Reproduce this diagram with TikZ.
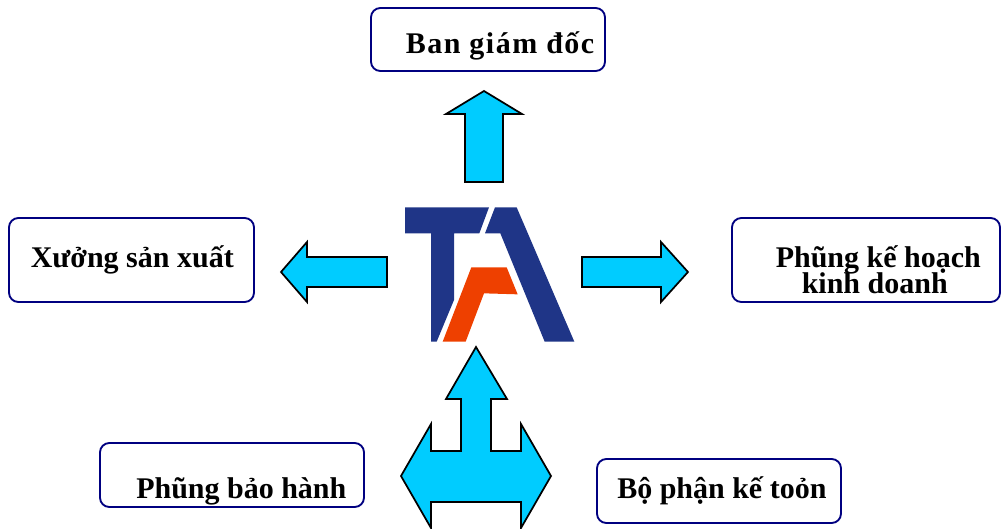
\documentclass[tikz,border=0pt]{standalone}
\usepackage{fontspec}
\setmainfont{Liberation Serif}
\definecolor{logoblue}{HTML}{1F3587}
\definecolor{logored}{HTML}{EE4000}
\definecolor{arrowcyan}{HTML}{00CCFF}
\definecolor{boxblue}{HTML}{000080}
\tikzset{
  roundbox/.style={draw=boxblue,line width=1.4pt,rounded corners=7pt,fill=white,inner sep=0pt,outer sep=0pt,anchor=north west},
  bigarrow/.style={draw=black,line width=1.3pt,fill=arrowcyan,miter limit=10},
  caption/.style={font=\fontsize{22.5pt}{26pt}\selectfont\bfseries,inner sep=0pt,anchor=base west,text=black}
}
\begin{document}
\begin{tikzpicture}[x=0.75pt,y=-0.75pt]
\useasboundingbox (0,0) rectangle (1001,529);
% boxes
\node[roundbox,minimum width=234*0.75pt,minimum height=63*0.75pt] (bgd) at (371,8) {};
\node[roundbox,minimum width=245*0.75pt,minimum height=84*0.75pt] (xsx) at (9,218) {};
\node[roundbox,minimum width=268*0.75pt,minimum height=84*0.75pt] (kh) at (732,218) {};
\node[roundbox,minimum width=264*0.75pt,minimum height=64*0.75pt] (bh) at (100,443) {};
\node[roundbox,minimum width=244*0.75pt,minimum height=64*0.75pt] (kt) at (597,459) {};
% texts
\node[caption] (tbgd) at (405.5,53) {\addfontfeature{LetterSpace=5}Ban giám đốc};
\node[caption] (txsx) at (30.5,267) {Xưởng sản xuất};
\node[caption] (tkh1) at (775.5,267) {Phũng kế hoạch};
\node[caption] (tkh2) at (801.5,293) {kinh doanh};
\node[caption] (tbh) at (136,498) {Phũng bảo hành};
\node[caption] (tkt) at (617,498) {Bộ phận kế toỏn};
% arrows
\draw[bigarrow] (484,91) -- (522,114) -- (503,114) -- (503,182) -- (465,182) -- (465,114) -- (446,114) -- cycle;
\draw[bigarrow] (281,272) -- (307,242) -- (307,257) -- (387,257) -- (387,287) -- (307,287) -- (307,302) -- cycle;
\draw[bigarrow] (688,272) -- (661,242) -- (661,257) -- (582,257) -- (582,287) -- (661,287) -- (661,302) -- cycle;
\draw[bigarrow] (476,347) -- (507,399) -- (491,399) -- (491,451) -- (521,451) -- (521,424) -- (551,476) -- (521,528) -- (521,502) -- (431,502) -- (431,528) -- (401,476) -- (431,424) -- (431,451) -- (461,451) -- (461,399) -- (446,399) -- cycle;
% logo
\begin{scope}[shift={(380,190)},x=0.25pt,y=-0.25pt]
\fill[logoblue] (75,52) -- (327,52) -- (298,130) -- (222,130) -- (222,330) -- (170,455) -- (153,455) -- (153,130) -- (75,130) -- cycle;
\fill[logoblue] (345,52) -- (410,52) -- (583,455) -- (494,455) -- (361,130) -- (315,130) -- cycle;
\fill[logored] (274,232) -- (380,232) -- (413,313) -- (312,310) -- (257,455) -- (188,455) -- cycle;
\end{scope}
\end{tikzpicture}
\end{document}
